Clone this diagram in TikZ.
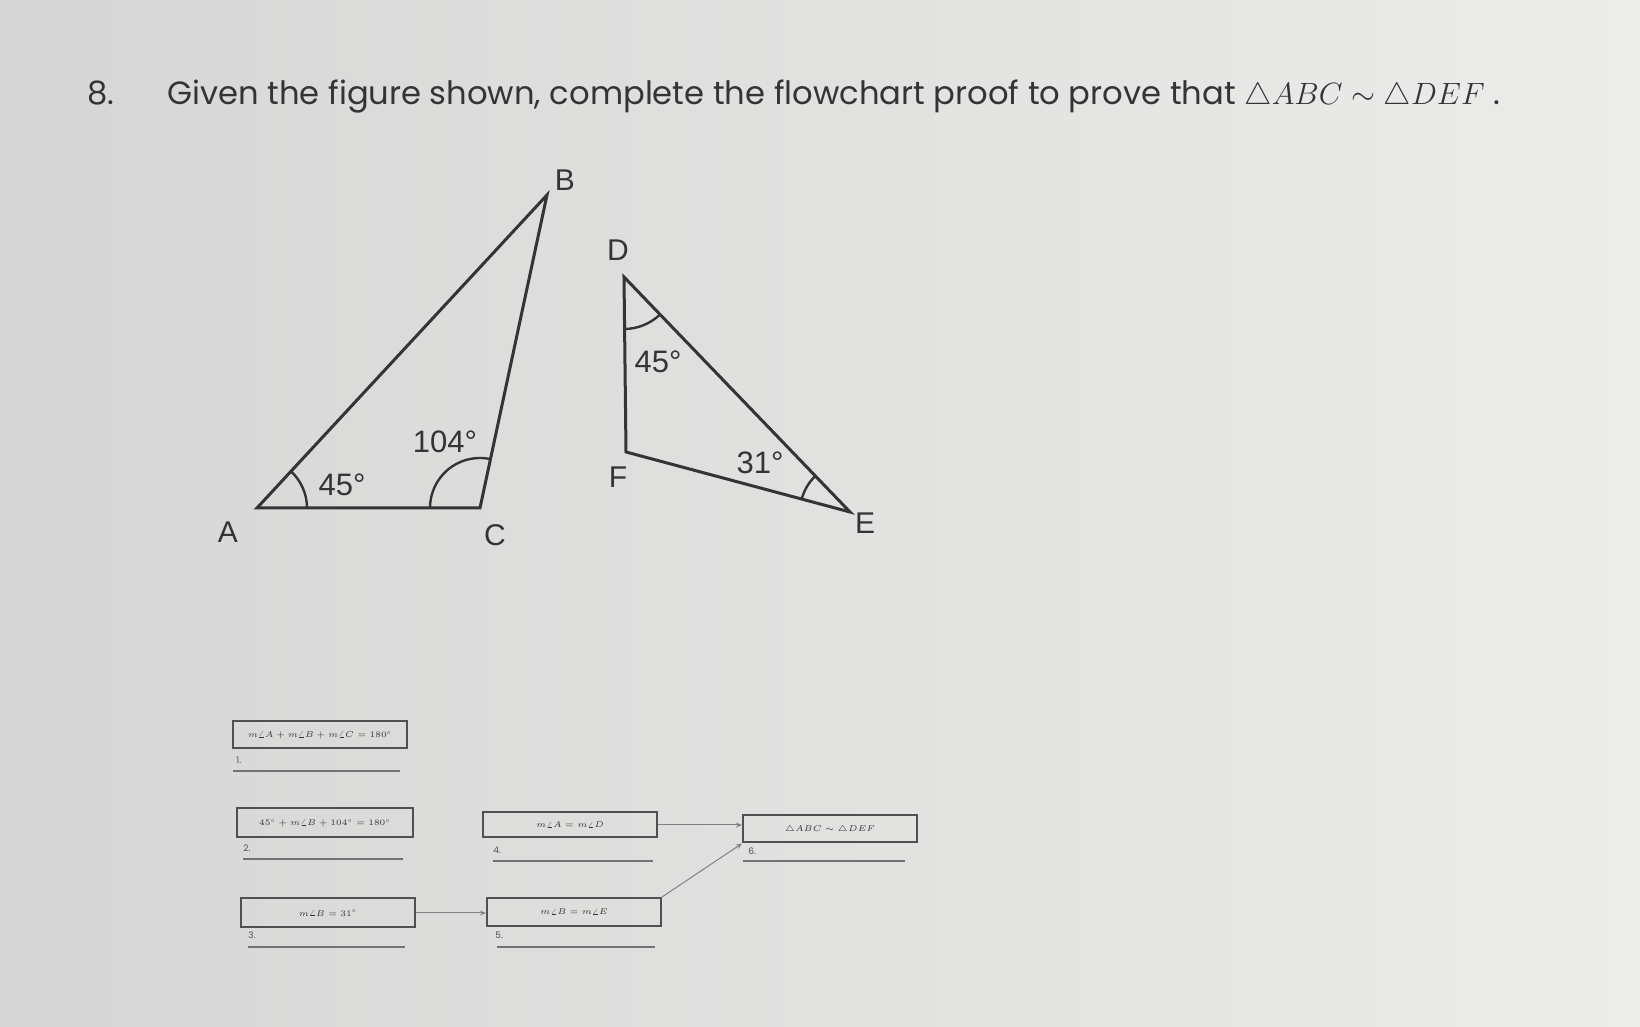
\RequirePackage{fix-cm}
\documentclass[tikz,border=0pt]{standalone}
\usepackage{fontspec}
\setmainfont{Poppins}
\newfontfamily\labelfont{Liberation Sans}
\usetikzlibrary{angles, arrows.meta}

\definecolor{paperleft}{RGB}{214,214,214}
\definecolor{paperright}{RGB}{236,236,234}
\definecolor{ink}{RGB}{52,52,52}
\definecolor{boxink}{RGB}{80,80,80}

\begin{document}
\begin{tikzpicture}[x=0.5pt, y=0.5pt,
                            vlabel/.style={text=ink, font=\labelfont\fontsize{15}{16}\selectfont, inner sep=0pt},
                            alabel/.style={text=ink, font=\labelfont\fontsize{15.5}{16}\selectfont, inner sep=0pt},
                            tri/.style={draw=ink, line width=1.5pt, line join=miter},
                            angarc/.style={draw=ink, line width=1.2pt, angle radius=25pt},
                            proofbox/.style={rectangle, draw=boxink, line width=1pt, minimum width=87pt, minimum height=13.5pt, inner sep=0pt, text=ink, font=\fontsize{4.2}{5}\selectfont},
                            reason/.style={text=boxink, font=\fontsize{4.5}{5}\selectfont, inner sep=0pt},
                            blankline/.style={draw=boxink!80, line width=0.8pt},
                            flow/.style={draw=black!50, line width=0.5pt, -{Stealth[length=3pt, width=2.5pt]}}]
                            \useasboundingbox (0, 0) rectangle (1640, 1027);
                            \fill [left color=paperleft, right color=paperright] (0, 0) rectangle (1640, 1027);

                            % heading
                            \node (num)[anchor=base west, text=ink] at (80, 922) {\fontsize{16.1}{20}\selectfont 8.};
                            \node (title)[anchor=base west, text=ink, inner sep=0pt] at (167, 922) {\fontsize{16.1}{20}\selectfont Given the figure shown, complete the flowchart proof to prove that {\fontsize{15.4}{20}\selectfont$\triangle ABC \sim \triangle DEF$} .};

                            % triangle ABC
                            \coordinate (A) at (257, 519);
                            \coordinate (C) at (480, 519);
                            \coordinate (B) at (547, 832);
                            \draw [tri] (A) -- (C) -- (B) -- cycle;
                            \pic [angarc] {angle = C--A--B};
                            \pic [angarc] {angle = B--C--A};
                            \node (lA)[vlabel] at (228, 495) {A};
                            \node (lB)[vlabel] at (565, 847) {B};
                            \node (lC)[vlabel] at (495, 492) {C};
                            \node (aA)[alabel] at (342, 542) {45°};
                            \node (aC)[alabel] at (445, 585) {104°};

                            % triangle DEF
                            \coordinate (D) at (624, 750);
                            \coordinate (F) at (626, 575);
                            \coordinate (E) at (850, 515);
                            \draw [tri] (D) -- (F) -- (E) -- cycle;
                            \pic [angarc, angle radius=26pt] {angle = F--D--E};
                            \pic [angarc] {angle = D--E--F};
                            \node (lD)[vlabel] at (618, 777) {D};
                            \node (lF)[vlabel] at (618, 550) {F};
                            \node (lE)[vlabel] at (865, 504) {E};
                            \node (aD)[alabel] at (658, 665) {45°};
                            \node (aE)[alabel] at (760, 564) {31°};

                            % flowchart
                            \node (b1)[proofbox] at (320, 292) {$m\angle A + m\angle B + m\angle C = 180^\circ$};
                            \node (b2)[proofbox, minimum width=88pt, minimum height=14.5pt] at (325, 204) {$45^\circ + m\angle B + 104^\circ = 180^\circ$};
                            \node (b3)[proofbox, minimum height=14.5pt] at (328, 114) {$m\angle B = 31^\circ$};
                            \node (b4)[proofbox, minimum height=12.5pt] at (570, 202) {$m\angle A = m\angle D$};
                            \node (b5)[proofbox, minimum height=14pt] at (574, 115) {$m\angle B = m\angle E$};
                            \node (b6)[proofbox] at (830, 198) {$\triangle ABC \sim \triangle DEF$};

                            \node (r1)[reason, anchor=west] at (236, 267) {1.};
                            \node (r2)[reason, anchor=west] at (243, 179) {2.};
                            \node (r3)[reason, anchor=west] at (248, 92) {3.};
                            \node (r4)[reason, anchor=west] at (493, 177) {4.};
                            \node (r5)[reason, anchor=west] at (495, 92) {5.};
                            \node (r6)[reason, anchor=west] at (748, 176) {6.};

                            \draw [blankline] (233, 256) -- (400, 256);
                            \draw [blankline] (243, 168) -- (403, 168);
                            \draw [blankline] (248, 80) -- (405, 80);
                            \draw [blankline] (493, 166) -- (653, 166);
                            \draw [blankline] (497, 80) -- (655, 80);
                            \draw [blankline] (743, 166) -- (905, 166);

                            \draw [flow] (b4.east) -- (b4.east -| b6.west);
                            \draw [flow] (b3.east) -- (b3.east -| b5.west);
                            \draw [flow] (b5.north east) -- (b6.south west);
                        \end{tikzpicture}
\end{document}
